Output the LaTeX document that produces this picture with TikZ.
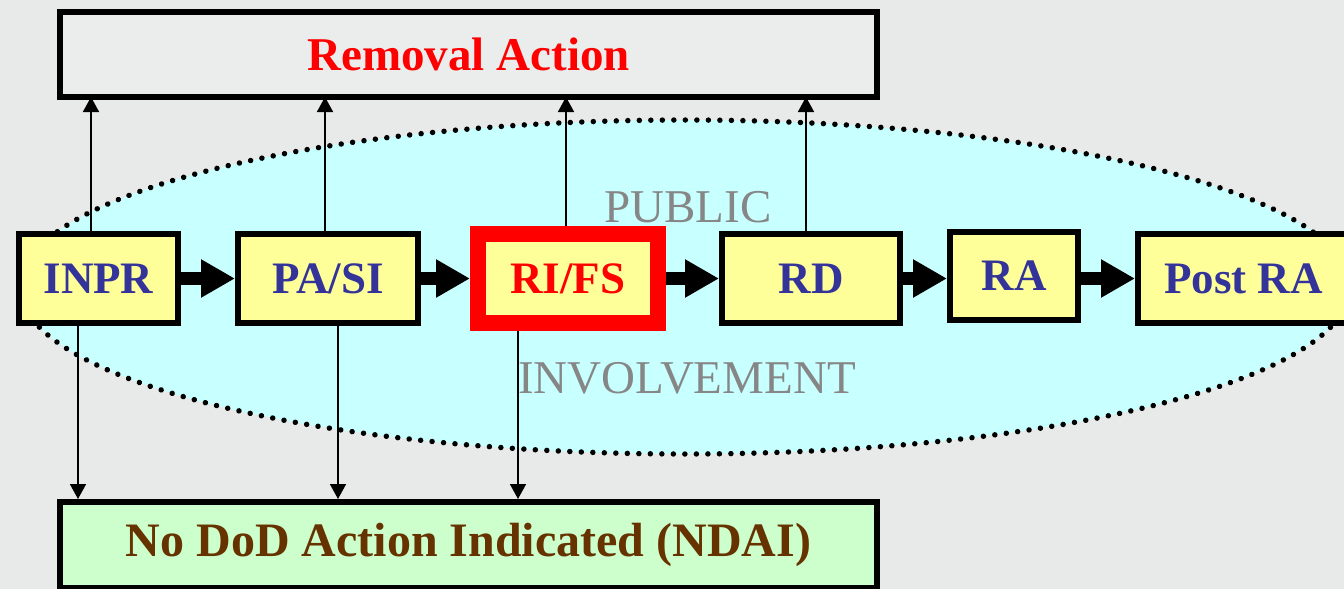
\documentclass[tikz,border=0pt]{standalone}
\usepackage{fontspec}
\setmainfont{Liberation Serif}
\usetikzlibrary{arrows.meta}
\definecolor{bg}{HTML}{E8EAEA}
\definecolor{topfill}{HTML}{EBEDED}
\definecolor{cyanfill}{HTML}{C8FFFF}
\definecolor{yel}{HTML}{FFFF99}
\definecolor{dblue}{HTML}{333399}
\definecolor{ndaifill}{HTML}{CCFFCC}
\definecolor{brownt}{HTML}{663300}
\definecolor{grayt}{HTML}{868686}
\tikzset{
  stagebox/.style={draw=black, line width=6pt, fill=yel, inner sep=0pt, minimum height=89pt,
    text=dblue, font=\fontsize{45}{50}\selectfont\bfseries},
  bigbox/.style={draw=black, line width=6pt, inner sep=0pt, minimum width=817pt,
    font=\fontsize{47}{52}\selectfont\bfseries},
  thinarrow/.style={line width=1.7pt, -{Triangle[length=15pt,width=16pt]}},
  bigarrow/.style={line width=13pt, -{Triangle[length=34pt,width=36pt]}},
  phase/.style={text=grayt, font=\fontsize{47}{52}\selectfont, inner sep=0pt},
}
\begin{document}
\begin{tikzpicture}[x=1pt,y=-1pt]
\useasboundingbox (0,0) rectangle (1344,589);
\clip (0,0) rectangle (1344,589);
\fill[bg] (0,0) rectangle (1344,589);
% ellipse
\fill[cyanfill] (685,287) ellipse [x radius=665, y radius=167];
\draw[line width=5.5pt, line cap=round, dash pattern=on 0.01pt off 11.5pt] (685,287) ellipse [x radius=665, y radius=167];
% big boxes
\node[bigbox, fill=topfill, minimum height=85pt, text=red] (rem) at (468.5,54.5) {Removal Action};
\node[bigbox, fill=ndaifill, minimum height=86pt, text=brownt, font=\fontsize{48}{52}\selectfont\bfseries] (ndai) at (468.5,545) {No DoD Action Indicated (NDAI)};
% phase labels
\node[phase] (pub) at (688,207) {PUBLIC};
\node[phase] (inv) at (687,378) {INVOLVEMENT};
% stage boxes
\node[stagebox, minimum width=159pt] (inpr) at (98.5,278.5) {INPR};
\node[stagebox, minimum width=180pt] (pasi) at (328,278.5) {PA/SI};
\node[stagebox, draw=red, line width=16pt, minimum width=180pt, text=red] (rifs) at (568,278.5) {RI/FS};
\node[stagebox, minimum width=178pt] (rd) at (811,278.5) {RD};
\node[stagebox, minimum width=128pt, minimum height=88pt] (ra) at (1014,276) {RA};
\node[stagebox, minimum width=211pt] (post) at (1243.5,278.5) {Post RA};
% thick arrows
\draw[bigarrow] (inpr.east) -- (pasi.west);
\draw[bigarrow] (pasi.west -| pasi.east) -- (rifs.west);
\draw[bigarrow] (rifs.east) -- (rd.west);
\draw[bigarrow] (rd.east) -- (rd.east -| ra.west);
\draw[bigarrow] (ra.east |- post.west) -- (post.west);
% thin up arrows
\coordinate (u1) at (91,0);
\coordinate (u2) at (325,0);
\coordinate (u3) at (566,0);
\coordinate (u4) at (806,0);
\draw[thinarrow, shorten >=-3pt] (inpr.north -| u1) -- (rem.south -| u1);
\draw[thinarrow, shorten >=-3pt] (pasi.north -| u2) -- (rem.south -| u2);
\draw[thinarrow, shorten >=-3pt] (rifs.north -| u3) -- (rem.south -| u3);
\draw[thinarrow, shorten >=-3pt] (rd.north -| u4) -- (rem.south -| u4);
% thin down arrows
\coordinate (d1) at (78,0);
\coordinate (d2) at (338,0);
\coordinate (d3) at (518,0);
\draw[thinarrow] (inpr.south -| d1) -- (ndai.north -| d1);
\draw[thinarrow] (pasi.south -| d2) -- (ndai.north -| d2);
\draw[thinarrow] (rifs.south -| d3) -- (ndai.north -| d3);
\end{tikzpicture}
\end{document}
